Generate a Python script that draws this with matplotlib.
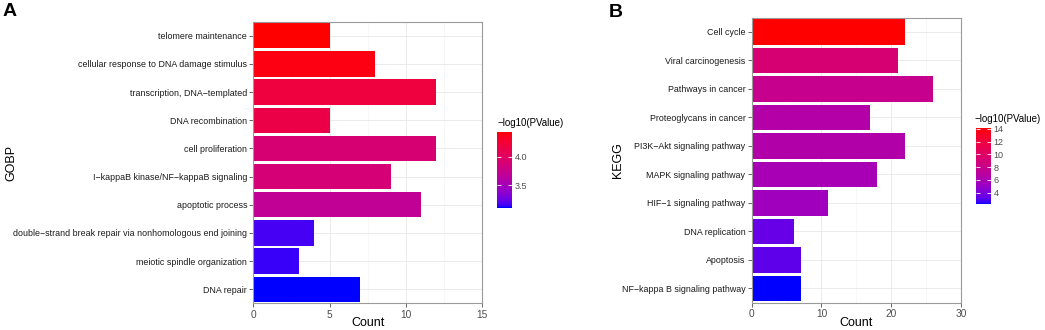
import numpy as np
import matplotlib
matplotlib.use("Agg")
import matplotlib.pyplot as plt
from matplotlib.colors import ListedColormap, Normalize
from matplotlib.cm import ScalarMappable

plt.rcParams['font.family'] = ['Liberation Sans', 'DejaVu Sans']

# GO biological process
gobp_terms = ["telomere maintenance", "cellular response to DNA damage stimulus",
              "transcription, DNA\u2212templated", "DNA recombination", "cell proliferation",
              "I\u2212kappaB kinase/NF\u2212kappaB signaling", "apoptotic process",
              "double\u2212strand break repair via nonhomologous end joining",
              "meiotic spindle organization", "DNA repair"]
gobp_count = [5, 8, 12, 5, 12, 9, 11, 4, 3, 7]
gobp_logp = [4.44, 4.40, 4.20, 4.15, 3.90, 3.88, 3.70, 3.16, 3.14, 3.10]

# KEGG pathways
kegg_terms = ["Cell cycle", "Viral carcinogenesis", "Pathways in cancer",
              "Proteoglycans in cancer", "PI3K\u2212Akt signaling pathway",
              "MAPK signaling pathway", "HIF\u22121 signaling pathway",
              "DNA replication", "Apoptosis", "NF\u2212kappa B signaling pathway"]
kegg_count = [22, 21, 26, 17, 22, 18, 11, 6, 7, 7]
kegg_logp = [14.1, 9.3, 7.9, 6.6, 6.5, 5.9, 5.5, 3.4, 3.2, 2.2]


# ggplot style gradient: blue -> red interpolated in CIELAB
def to_lab(rgb):
    c = np.asarray(rgb, dtype=float)
    c = np.where(c > 0.04045, ((c + 0.055) / 1.055) ** 2.4, c / 12.92)
    m = np.array([[0.4124, 0.3576, 0.1805], [0.2126, 0.7152, 0.0722], [0.0193, 0.1192, 0.9505]])
    xyz = m @ c / np.array([0.95047, 1.0, 1.08883])
    f = np.where(xyz > 0.008856, np.cbrt(xyz), 7.787 * xyz + 16 / 116)
    return np.array([116 * f[1] - 16, 500 * (f[0] - f[1]), 200 * (f[1] - f[2])])


def from_lab(lab):
    fy = (lab[0] + 16) / 116
    f = np.array([fy + lab[1] / 500, fy, fy - lab[2] / 200])
    xyz = np.where(f ** 3 > 0.008856, f ** 3, (f - 16 / 116) / 7.787) * np.array([0.95047, 1.0, 1.08883])
    m = np.array([[3.2406, -1.5372, -0.4986], [-0.9689, 1.8758, 0.0415], [0.0557, -0.2040, 1.0570]])
    c = m @ xyz
    c = np.where(c > 0.0031308, 1.055 * np.abs(c) ** (1 / 2.4) - 0.055, 12.92 * c)
    return np.clip(c, 0, 1)


lo, hi = to_lab([0, 0, 1]), to_lab([1, 0, 0])
cmap = ListedColormap([from_lab(lo + t * (hi - lo)) for t in np.linspace(0, 1, 256)])

fig = plt.figure(figsize=(10.45, 3.3), dpi=100)


def panel(rect, crect, terms, counts, logp, xmax, xstep, ylab, ypos, letter, lpos, ticks, ticklab, tpos):
    ax = fig.add_axes(rect)
    norm = Normalize(min(logp), max(logp))
    y = np.arange(len(terms))
    ax.barh(y, counts, height=0.9, color=cmap(norm(np.array(logp))), zorder=2)
    ax.set_xlim(0, xmax)
    ax.set_ylim(len(terms) - 0.5, -0.5)
    ax.set_xticks(np.arange(0, xmax + 1, xstep))
    ax.set_xticks(np.arange(xstep / 2, xmax, xstep), minor=True)
    ax.set_yticks(y)
    ax.set_yticklabels(terms, fontsize=6.4, color='#1A1A1A')
    ax.tick_params(axis='x', labelsize=7.3, colors='#4D4D4D', length=3, width=0.6, pad=1.5)
    ax.tick_params(axis='y', length=3, width=0.6, color='#4D4D4D', pad=1.5)
    ax.tick_params(which='minor', length=0)
    ax.grid(True, which='major', color='#E8E8E8', lw=0.6, zorder=0)
    ax.grid(True, which='minor', axis='x', color='#F2F2F2', lw=0.4, zorder=0)
    for s in ax.spines.values():
        s.set_color('#9A9A9A')
        s.set_linewidth(0.8)
    x0, y0, w, h = rect
    fig.text(x0 + w / 2, 0.02, "Count", fontsize=9, ha='center', va='center')
    fig.text(ypos, y0 + h / 2, ylab, fontsize=9, rotation=90, ha='center', va='center')
    fig.text(lpos[0], lpos[1], letter, fontsize=14, fontweight='bold', ha='center', va='center')

    cax = fig.add_axes(crect)
    sm = ScalarMappable(norm=norm, cmap=cmap)
    cb = fig.colorbar(sm, cax=cax, ticks=ticks)
    cb.outline.set_visible(False)
    cb.set_ticklabels(ticklab)
    cax.tick_params(labelsize=6.5, colors='white', length=3, width=0.6, direction='in',
                    left=True, right=True, pad=2)
    for t in cax.get_yticklabels():
        t.set_color('#4D4D4D')
    fig.text(tpos[0], tpos[1], "\u2212log10(PValue)", fontsize=7, ha='left', va='center')


panel([0.2424, 0.0809, 0.2191, 0.8533], [0.4759, 0.3706, 0.01435, 0.2303],
      gobp_terms, gobp_count, gobp_logp, 15, 5, "GOBP", 0.0105, "A", (0.0091, 0.965),
      [3.5, 4.0], ["3.5", "4.0"], (0.4759, 0.627))
panel([0.7193, 0.0827, 0.2003, 0.8636], [0.934, 0.3818, 0.01435, 0.2294],
      kegg_terms, kegg_count, kegg_logp, 30, 10, "KEGG", 0.5914, "B", (0.589, 0.962),
      [4, 6, 8, 10, 12, 14], ["4", "6", "8", "10", "12", "14"], (0.933, 0.639))

fig.savefig("out.png", dpi=100)
